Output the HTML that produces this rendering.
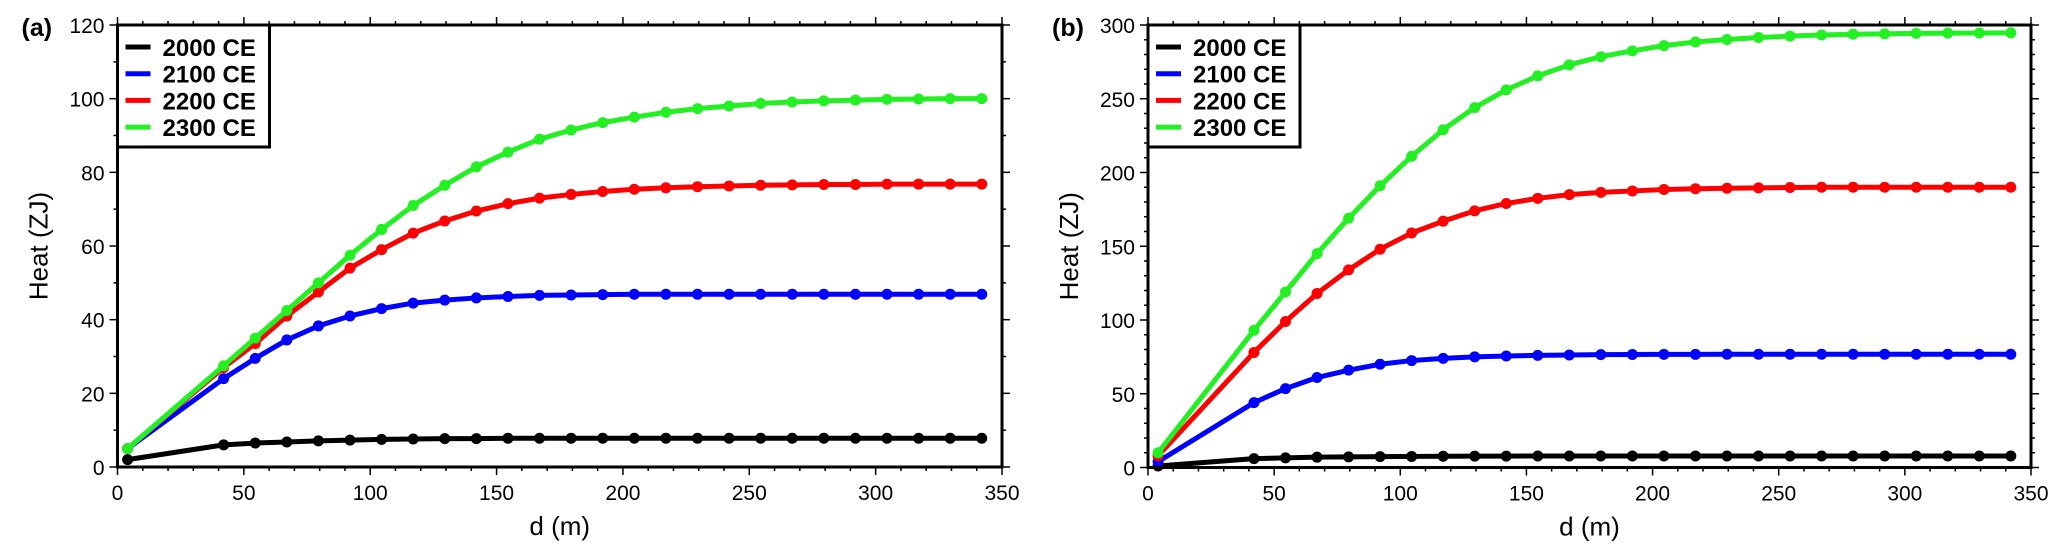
<!DOCTYPE html>
<html><head><meta charset="utf-8"><style>
body{margin:0;background:#fff;}
svg{display:block;font-family:"Liberation Sans",Arial,sans-serif;}
</style></head><body>
<svg id="chart" width="2067" height="559" viewBox="0 0 2067 559" xmlns="http://www.w3.org/2000/svg"></svg>
<script>
const depths=[4,42,54.5,67,79.5,92,104.5,117,129.5,142,154.5,167,179.5,192,204.5,217,229.5,242,254.5,267,279.5,292,304.5,317,329.5,342];
const seriesNames=["2000 CE","2100 CE","2200 CE","2300 CE"];
const seriesColors=["#000000","#0000ff","#ff0000","#22f022"];
const a2000=[2,6,6.5,6.8,7.1,7.3,7.5,7.6,7.7,7.7,7.8,7.8,7.8,7.8,7.8,7.8,7.8,7.8,7.8,7.8,7.8,7.8,7.8,7.8,7.8,7.8];
const a2100=[5,24,29.5,34.5,38.3,41,43,44.5,45.3,45.9,46.3,46.6,46.7,46.8,46.9,46.9,46.9,46.9,46.9,46.9,46.9,46.9,46.9,46.9,46.9,46.9];
const a2200=[5,27,33.5,41,47.5,54,59,63.5,66.8,69.5,71.5,73,74,74.8,75.4,75.8,76.1,76.3,76.5,76.6,76.7,76.7,76.8,76.8,76.8,76.8];
const a2300=[5,27.5,35,42.5,50,57.5,64.5,71,76.5,81.5,85.5,89,91.5,93.5,95,96.3,97.3,98,98.7,99.1,99.4,99.6,99.8,99.9,100,100];
const b2000=[1,6,6.5,7,7.2,7.4,7.5,7.6,7.7,7.7,7.8,7.8,7.8,7.8,7.8,7.8,7.8,7.8,7.8,7.8,7.8,7.8,7.8,7.8,7.8,7.8];
const b2100=[4,44,53.5,61,66,70,72.5,74,75,75.6,76,76.3,76.5,76.6,76.7,76.7,76.8,76.8,76.8,76.8,76.8,76.8,76.8,76.8,76.8,76.8];
const b2200=[8,78,99,118,134,148,159,167,174,179,182.5,185,186.5,187.5,188.5,189,189.3,189.6,189.8,190,190,190,190,190,190,190];
const b2300=[10,93,119,145,169,191,211,229,244,256,265.5,273,278.5,282.5,286,288.5,290.2,291.5,292.5,293.2,293.7,294,294.3,294.5,294.6,294.7];
const xTicks=[0,50,100,150,200,250,300,350];
const aYTicks=[0,20,40,60,80,100,120];
const bYTicks=[0,50,100,150,200,250,300];

const NS="http://www.w3.org/2000/svg";
const svg=document.getElementById('chart');
function mk(tag,attrs,parent){const e=document.createElementNS(NS,tag);for(const k in attrs)e.setAttribute(k,attrs[k]);(parent||svg).appendChild(e);return e;}

function panel(id,label,x0,x1,y0,y1,ymax,yTicks,yMinor,data){
  const g=mk('g',{});
  
  
  const sx=v=>x0+(v/350)*(x1-x0);
  const sy=v=>y0-(v/ymax)*(y0-y1);
  for(let v=0;v<=350;v+=10){
    const maj=v%50===0, L=maj?8:4;
    mk('line',{x1:sx(v),x2:sx(v),y1:y0,y2:y0+L,stroke:'#000','stroke-width':1.5},g);
    mk('line',{x1:sx(v),x2:sx(v),y1:y1,y2:y1-L,stroke:'#000','stroke-width':1.5},g);
  }
  for(let v=0;v<=ymax+1e-9;v+=yMinor){
    const maj=yTicks.some(t=>Math.abs(t-v)<1e-6), L=maj?8:4;
    mk('line',{x1:x0,x2:x0-L,y1:sy(v),y2:sy(v),stroke:'#000','stroke-width':1.5},g);
    mk('line',{x1:x1,x2:x1+L,y1:sy(v),y2:sy(v),stroke:'#000','stroke-width':1.5},g);
  }
  xTicks.forEach(v=>{const t=mk('text',{x:sx(v),y:y0+33,'font-size':21,'text-anchor':'middle'},g);t.textContent=v;
    
    });
  yTicks.forEach(v=>{const t=mk('text',{x:x0-13,y:sy(v)+8,'font-size':21,'text-anchor':'end'},g);t.textContent=v;
    
    });
  const yt=mk('text',{x:0,y:0,'font-size':26,'text-anchor':'middle',transform:`translate(${x0-70},${(y0+y1)/2}) rotate(-90)`},g);
  yt.textContent='Heat (ZJ)';
  
  
  const xt=mk('text',{x:(x0+x1)/2,y:y0+68,'font-size':26,'text-anchor':'middle'},g);
  xt.textContent='d (m)';
  
  
  const pl=mk('text',{x:x0-96,y:y1+11,'font-size':25,'font-weight':'bold'},g);
  pl.textContent=label;
  
  
  data.forEach((vals,si)=>{
    const sg=mk('g',{},g);
    
    
    const pts=depths.map((d,i)=>sx(d)+','+sy(vals[i])).join(' ');
    mk('polyline',{points:pts,fill:'none',stroke:seriesColors[si],'stroke-width':5,'stroke-linejoin':'round'},sg);
    depths.forEach((d,i)=>{
      const c=mk('circle',{cx:sx(d),cy:sy(vals[i]),r:5.5,fill:seriesColors[si]},sg);
      
      
    });
  });
  const fr=mk('rect',{x:x0,y:y1,width:x1-x0,height:y0-y1,fill:'none',stroke:'#000','stroke-width':3},g);
  
  
  const lg=mk('g',{},g);
  
  
  mk('rect',{x:x0,y:y1,width:152,height:122,fill:'#fff',stroke:'#000','stroke-width':3},lg);
  seriesNames.forEach((n,i)=>{
    const yy=y1+22+i*26.7;
    const e=mk('g',{},lg);
    
    
    mk('line',{x1:x0+8,x2:x0+33,y1:yy,y2:yy,stroke:seriesColors[i],'stroke-width':5},e);
    const t=mk('text',{x:x0+45,y:yy+9,'font-size':24,'font-weight':'bold'},e);
    t.textContent=n;
  });
}
panel('a','(a)',117.5,1002,467,25,120,aYTicks,10,[a2000,a2100,a2200,a2300]);
panel('b','(b)',1148,2031,467.5,25,300,bYTicks,10,[b2000,b2100,b2200,b2300]);
</script>
</body></html>
